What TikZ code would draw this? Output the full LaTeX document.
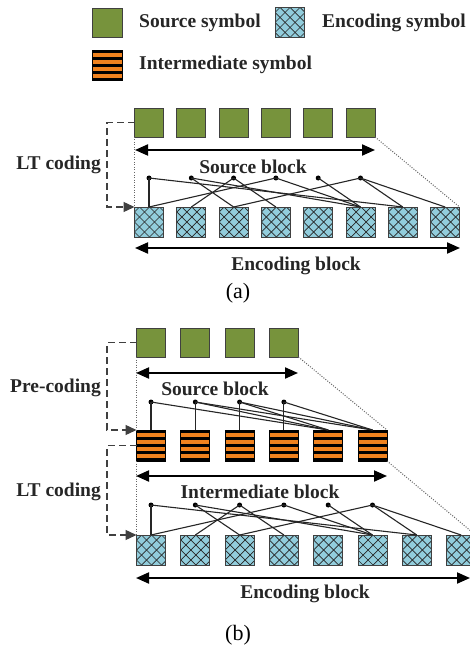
\documentclass[tikz,border=0pt]{standalone}
\usepackage{fontspec}
\setmainfont{Liberation Serif}
\usetikzlibrary{arrows.meta}
\definecolor{srcgreen}{RGB}{119,147,60}
\definecolor{encblue}{RGB}{146,205,220}
\definecolor{intorange}{RGB}{240,130,30}
\begin{document}
\begin{tikzpicture}[x=1bp,y=-1bp,
  sym/.style={draw=black!75, line width=0.8bp, minimum width=29bp, minimum height=29bp, inner sep=0pt, outer sep=0pt},
  srcsym/.style={sym, fill=srcgreen},
  encsym/.style={sym, fill=encblue, minimum height=30bp, path picture={
     \foreach \k in {-4,...,4}{
       \draw[black!85, line width=0.7bp] ([xshift=\k*10bp+5bp]path picture bounding box.south west) -- ++(40bp,40bp);
       \draw[black!85, line width=0.7bp] ([xshift=\k*10bp+5bp]path picture bounding box.north west) -- ++(40bp,-40bp);
     }}},
  intsym/.style={sym, fill=black, draw=black, minimum height=31bp, path picture={
     \foreach \i in {1,3,5,7}{
       \fill[intorange] ([yshift=-\i*3.44bp]path picture bounding box.north west) rectangle ([yshift=-\i*3.44bp-3.44bp]path picture bounding box.north east);
     }}},
  lbl/.style={font=\fontsize{19.5bp}{21bp}\selectfont\bfseries, inner sep=0pt, text=black!85},
  captxt/.style={font=\fontsize{22bp}{24bp}\selectfont, inner sep=0pt},
  dot/.style={circle, fill=black, inner sep=0pt, minimum size=5bp},
  conn/.style={line width=1.1bp, black!85},
  blk/.style={line width=2bp, {Triangle[length=13bp,width=11bp]}-{Triangle[length=13bp,width=11bp]}},
  dashcon/.style={line width=1.3bp, black!75, dash pattern=on 7bp off 4bp, -{Triangle[length=11bp,width=10bp]}},
  dotl/.style={line width=1bp, black!60, dash pattern=on 1bp off 1.5bp}
]
\useasboundingbox (0,0) rectangle (470,645);
\fill[white] (0,0) rectangle (470,645);

% ---------- legend ----------
\node[srcsym, minimum width=30bp] (leg-s) at (107,22.5) {};
\node[lbl, anchor=west] (leg-st) at (139,22.5) {Source symbol};
\node[encsym] (leg-e) at (289.5,22.5) {};
\node[lbl, anchor=west] (leg-et) at (322,22.5) {Encoding symbol};
\node[intsym, minimum width=30bp, minimum height=30bp] (leg-i) at (107,65) {};
\node[lbl, anchor=west] (leg-it) at (139,65) {Intermediate symbol};

% ---------- (a) ----------
\foreach \i in {1,...,6}{
  \node[srcsym] (a-s\i) at ({149+42.3*(\i-1)},122.5) {};
  \node[dot] (a-d\i) at ({149+42.3*(\i-1)},178) {};
}
\foreach \i in {1,...,8}{
  \node[encsym] (a-e\i) at ({149+42.3*(\i-1)},222) {};
}
\foreach \d/\e in {1/1,1/7,2/3,2/6,3/2,3/4,4/1,4/6,5/6,6/3,6/7,6/8}{
  \draw[conn] (a-d\d.center) -- (a-e\e.north);
}
\coordinate (a-sbL) at (135,150);
\coordinate (a-sbR) at (375,150);
\draw[blk] (a-sbL) -- (a-sbR);
\node[lbl] (a-sbt) at (253,167) {Source block};
\coordinate (a-ebL) at (135,248);
\coordinate (a-ebR) at (460,248);
\draw[blk] (a-ebL) -- (a-ebR);
\node[lbl] (a-ebt) at (296,266) {Encoding block};
\node[captxt] (a-cap) at (238,293) {(a)};
\coordinate (a-ltc) at (107,122.5);
\draw[dashcon] (a-s1.west) -- (a-ltc) |- (a-e1.north west);
\node[lbl, anchor=east] (a-ltt) at (101,165) {LT coding};
\draw[dotl] (a-s1.south west) -- (a-e1.north west);
\draw[dotl] (a-s6.south east) -- (a-e8.north east);

% ---------- (b) ----------
\foreach \i in {1,...,4}{
  \node[srcsym] (b-s\i) at ({151+44.3*(\i-1)},342.5) {};
  \node[dot] (b-p\i) at ({151+44.3*(\i-1)},402) {};
}
\foreach \i in {1,...,6}{
  \node[intsym] (b-m\i) at ({151+44.3*(\i-1)},445.5) {};
  \node[dot] (b-d\i) at ({151+44.3*(\i-1)},505) {};
}
\foreach \i in {1,...,8}{
  \node[encsym] (b-e\i) at ({151+44.3*(\i-1)},550) {};
}
\foreach \d/\e in {1/1,1/5,2/2,2/5,2/6,3/3,3/5,3/6,4/4,4/6}{
  \draw[conn] (b-p\d.center) -- (b-m\e.north);
}
\foreach \d/\e in {1/1,1/7,2/3,2/6,3/2,3/4,4/1,4/6,5/6,6/3,6/7,6/8}{
  \draw[conn] (b-d\d.center) -- (b-e\e.north);
}
\coordinate (b-sbL) at (136,373);
\coordinate (b-sbR) at (298,373);
\draw[blk] (b-sbL) -- (b-sbR);
\node[lbl] (b-sbt) at (215,389) {Source block};
\coordinate (b-ibL) at (136,476);
\coordinate (b-ibR) at (387,476);
\draw[blk] (b-ibL) -- (b-ibR);
\node[lbl] (b-ibt) at (260,492) {Intermediate block};
\coordinate (b-ebL) at (136,578);
\coordinate (b-ebR) at (470,578);
\draw[blk] (b-ebL) -- (b-ebR);
\node[lbl] (b-ebt) at (305,594) {Encoding block};
\node[captxt] (b-cap) at (238,635) {(b)};
\coordinate (b-pcc) at (107,342.5);
\draw[dashcon] (b-s1.west) -- (b-pcc) |- (b-m1.north west);
\node[lbl, anchor=east] (b-pct) at (101,388) {Pre-coding};
\coordinate (b-ltc) at (107,445.5);
\draw[dashcon] (b-m1.west) -- (b-ltc) |- (b-e1.north west);
\node[lbl, anchor=east] (b-ltt) at (101,492) {LT coding};
\draw[dotl] (b-s1.south west) -- (b-m1.north west);
\draw[dotl] (b-s4.south east) -- (b-m6.north east);
\draw[dotl] (b-m1.south west) -- (b-e1.north west);
\draw[dotl] (b-m6.south east) -- (b-e8.north east);
\end{tikzpicture}
\end{document}
